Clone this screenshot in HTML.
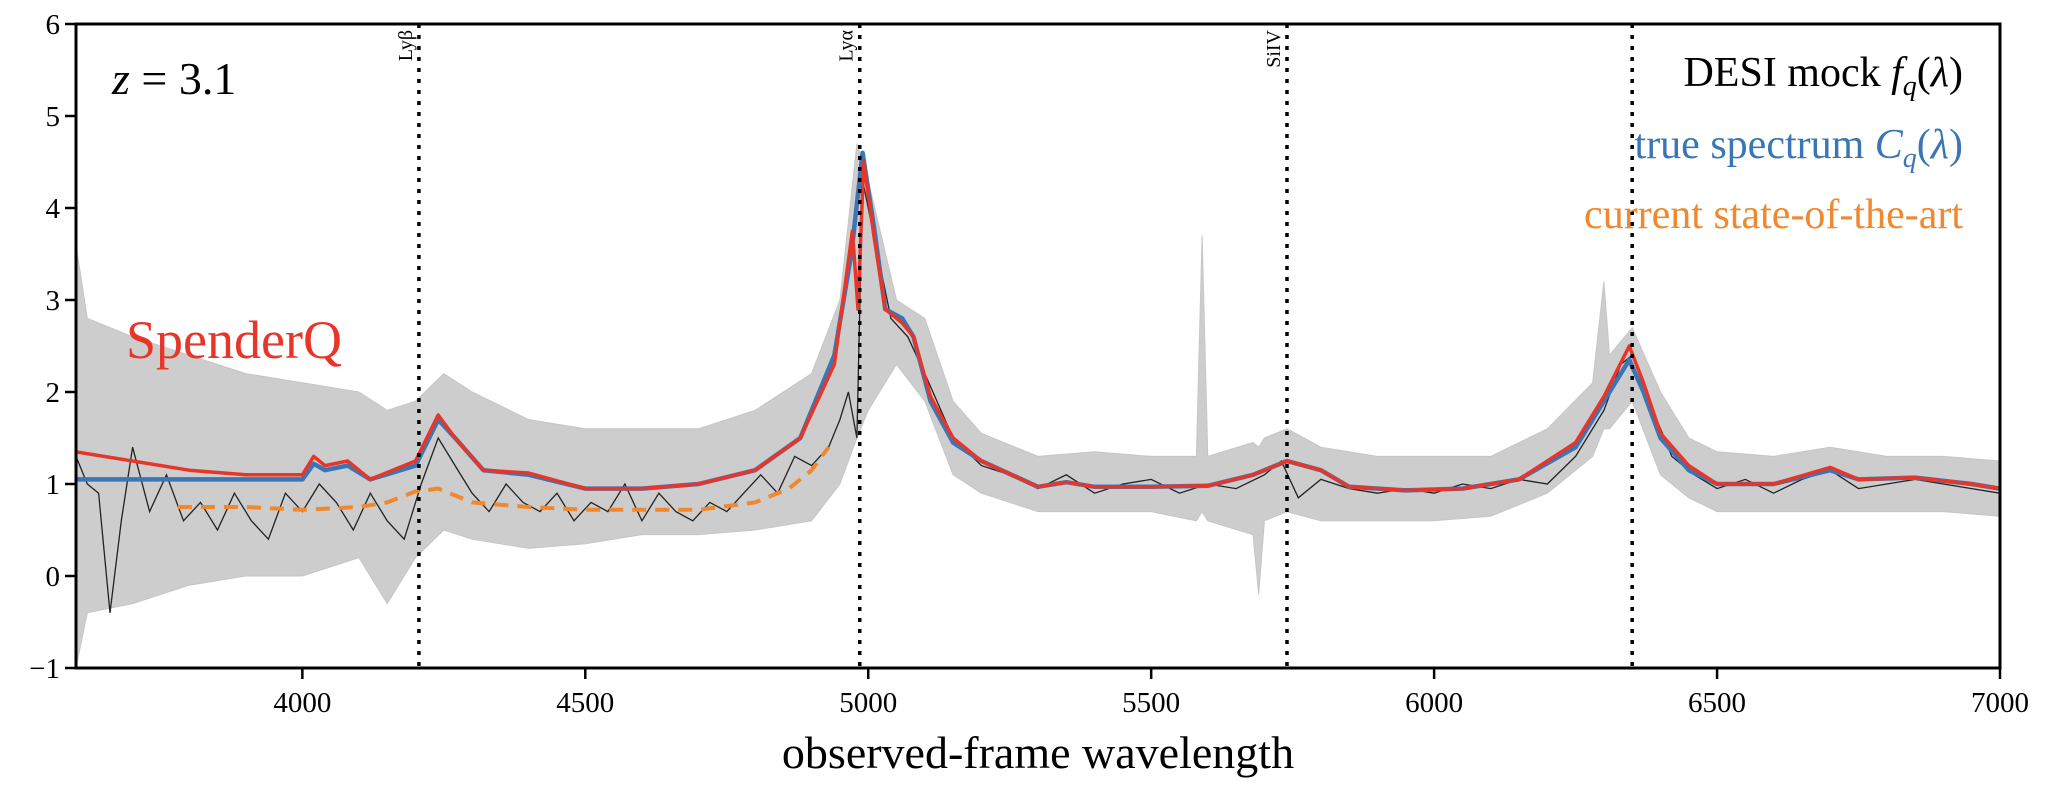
<!DOCTYPE html>
<html><head><meta charset="utf-8"><style>
html,body{margin:0;padding:0;background:#fff;}
svg{display:block;font-family:"Liberation Serif",serif;}
</style></head><body>
<svg id="chart" width="2048" height="790" viewBox="0 0 2048 790" xmlns="http://www.w3.org/2000/svg">
<g id="plot"></g>
</svg>
<script>
// ---- data ----
const xTicks = [4000, 4500, 5000, 5500, 6000, 6500, 7000];
const yTicks = [-1, 0, 1, 2, 3, 4, 5, 6];
const lineNames = ["Lyβ", "Lyα", "SiIV", "CIV"];
const lineWaves = [4206, 4985, 5740, 6350];

const grayWave  = [3600,3620,3700,3800,3900,4000,4100,4150,4200,4250,4300,4400,4500,4600,4700,4800,4900,4950,4980,5000,5050,5100,5150,5200,5300,5400,5500,5580,5590,5600,5680,5690,5700,5740,5800,5900,6000,6100,6200,6280,6300,6310,6350,6400,6450,6500,6600,6700,6800,6900,7000];
const grayUpper = [3.6,2.8,2.6,2.4,2.2,2.1,2.0,1.8,1.9,2.2,2.0,1.7,1.6,1.6,1.6,1.8,2.2,3.0,4.7,4.3,3.0,2.8,1.9,1.55,1.3,1.35,1.3,1.3,3.7,1.3,1.45,1.4,1.5,1.6,1.4,1.3,1.3,1.3,1.6,2.1,3.2,2.4,2.7,2.0,1.5,1.35,1.3,1.4,1.3,1.3,1.25];
const grayLower = [-1,-0.4,-0.3,-0.1,0.0,0.0,0.2,-0.3,0.2,0.5,0.4,0.3,0.35,0.45,0.45,0.5,0.6,1.0,1.5,1.8,2.3,1.9,1.1,0.9,0.7,0.7,0.7,0.6,0.7,0.6,0.45,-0.2,0.6,0.7,0.6,0.6,0.6,0.65,0.9,1.3,1.6,1.6,1.9,1.1,0.85,0.7,0.7,0.7,0.7,0.7,0.65];

const blackWave = [3600,3620,3640,3660,3680,3700,3730,3760,3790,3820,3850,3880,3910,3940,3970,4000,4030,4060,4090,4120,4150,4180,4210,4240,4270,4300,4330,4360,4390,4420,4450,4480,4510,4540,4570,4600,4630,4660,4690,4720,4750,4780,4810,4840,4870,4900,4930,4950,4965,4980,4990,5010,5040,5070,5100,5150,5200,5250,5300,5350,5400,5450,5500,5550,5600,5650,5700,5730,5760,5800,5850,5900,5950,6000,6050,6100,6150,6200,6250,6300,6330,6350,6380,6420,6460,6500,6550,6600,6650,6700,6750,6800,6850,6900,6950,7000];
const blackVals = [1.3,1.0,0.9,-0.4,0.6,1.4,0.7,1.1,0.6,0.8,0.5,0.9,0.6,0.4,0.9,0.7,1.0,0.8,0.5,0.9,0.6,0.4,1.0,1.5,1.2,0.9,0.7,1.0,0.8,0.7,0.9,0.6,0.8,0.7,1.0,0.6,0.9,0.7,0.6,0.8,0.7,0.9,1.1,0.9,1.3,1.2,1.4,1.7,2.0,1.5,4.3,3.7,2.8,2.6,2.2,1.5,1.2,1.1,0.95,1.1,0.9,1.0,1.05,0.9,1.0,0.95,1.1,1.25,0.85,1.05,0.95,0.9,0.95,0.9,1.0,0.95,1.05,1.0,1.3,1.8,2.3,2.4,1.9,1.3,1.1,0.95,1.05,0.9,1.05,1.15,0.95,1.0,1.05,1.0,0.95,0.9];

const blueWave = [3600,3900,4000,4020,4040,4080,4120,4200,4240,4270,4320,4400,4500,4600,4700,4800,4880,4940,4970,4990,5010,5030,5060,5080,5110,5150,5200,5300,5350,5400,5500,5600,5680,5740,5800,5850,5950,6050,6150,6250,6300,6345,6370,6400,6450,6500,6600,6700,6750,6850,6950,7000];
const blueVals = [1.05,1.05,1.05,1.22,1.15,1.2,1.05,1.2,1.7,1.5,1.15,1.1,0.95,0.95,1.0,1.15,1.5,2.4,3.5,4.6,3.8,2.9,2.8,2.6,1.9,1.45,1.25,0.97,1.02,0.97,0.97,0.98,1.1,1.25,1.15,0.97,0.93,0.95,1.05,1.4,1.9,2.35,2.0,1.5,1.15,1.0,1.0,1.15,1.05,1.07,1.0,0.95];

const redWave = [3600,3700,3800,3900,4000,4020,4040,4080,4120,4200,4240,4270,4320,4400,4500,4600,4700,4800,4880,4940,4960,4972,4982,4992,5010,5030,5060,5080,5110,5150,5200,5300,5350,5400,5500,5600,5680,5740,5800,5850,5950,6050,6150,6250,6300,6345,6370,6400,6450,6500,6600,6700,6750,6850,6950,7000];
const redVals = [1.35,1.25,1.15,1.1,1.1,1.3,1.2,1.25,1.05,1.25,1.75,1.5,1.15,1.12,0.95,0.95,1.0,1.15,1.5,2.3,3.2,3.75,2.9,4.5,3.7,2.9,2.75,2.6,1.95,1.5,1.25,0.97,1.02,0.97,0.97,0.98,1.1,1.25,1.15,0.97,0.93,0.95,1.05,1.45,1.95,2.5,2.1,1.55,1.2,1.0,1.0,1.18,1.05,1.07,1.0,0.95];

const orangeWave = [3780,3900,4000,4100,4150,4200,4240,4300,4400,4500,4600,4700,4800,4860,4900,4930];
const orangeVals = [0.75,0.75,0.72,0.75,0.8,0.92,0.95,0.8,0.75,0.72,0.72,0.72,0.8,0.95,1.15,1.4];

// ---- axes ----
const X0=3600, X1=7000, PX0=76, PX1=2000;
const Y0=-1, Y1=6, PY0=668, PY1=24;
const xs = v => PX0 + (v - X0) * (PX1 - PX0) / (X1 - X0);
const ys = v => PY0 - (v - Y0) * (PY0 - PY1) / (Y1 - Y0);
const NS="http://www.w3.org/2000/svg";
const svg=document.getElementById('chart');
const plot=document.getElementById('plot');
function mk(tag, attrs, parent){const e=document.createElementNS(NS,tag);for(const k in attrs)e.setAttribute(k,attrs[k]);(parent||svg).appendChild(e);return e;}
function pts(w,v){return w.map((x,i)=>xs(x).toFixed(1)+','+ys(v[i]).toFixed(1)).join(' ');}

const clip=mk('clipPath',{id:'clip'});mk('rect',{x:PX0,y:PY1,width:PX1-PX0,height:PY0-PY1},clip);
plot.setAttribute('clip-path','url(#clip)');

const band = mk('polygon',{points:pts(grayWave,grayUpper)+' '+pts(grayWave.slice().reverse(),grayLower.slice().reverse()),fill:'#cdcdcd',stroke:'#c6c6c6','stroke-width':1},plot);



const bl = mk('polyline',{points:pts(blackWave,blackVals),fill:'none',stroke:'#222','stroke-width':1.3},plot);



const og = mk('polyline',{points:pts(orangeWave,orangeVals),fill:'none',stroke:'#f0882f','stroke-width':4,'stroke-dasharray':'14,9'},plot);



const bu = mk('polyline',{points:pts(blueWave,blueVals),fill:'none',stroke:'#3a76b5','stroke-width':4.5,'stroke-linejoin':'round'},plot);



const rd = mk('polyline',{points:pts(redWave,redVals),fill:'none',stroke:'#e8352a','stroke-width':3.5,'stroke-linejoin':'round'},plot);



lineWaves.forEach((w,i)=>{
  const l=mk('line',{x1:xs(w),x2:xs(w),y1:PY1,y2:PY0,stroke:'#000','stroke-width':3.5,'stroke-dasharray':'4,7'});
  
  
  if(lineNames[i]!=="CIV"){
    const t=mk('text',{x:0,y:0,'font-size':20,'text-anchor':'end',transform:`translate(${xs(w)-7},30) rotate(-90)`});
    t.textContent=lineNames[i];
    
    
  }
});

const fr=mk('rect',{x:PX0,y:PY1,width:PX1-PX0,height:PY0-PY1,fill:'none',stroke:'#000','stroke-width':3});



xTicks.forEach(v=>{
  const t=mk('line',{x1:xs(v),x2:xs(v),y1:PY0,y2:PY0+11,stroke:'#000','stroke-width':2.5});
  
  
  const l=mk('text',{x:xs(v),y:PY0+44,'font-size':29,'text-anchor':'middle'});
  l.textContent=v;
  
  
});
yTicks.forEach(v=>{
  const t=mk('line',{x1:PX0-11,x2:PX0,y1:ys(v),y2:ys(v),stroke:'#000','stroke-width':2.5});
  
  
  const l=mk('text',{x:PX0-16,y:ys(v)+10,'font-size':29,'text-anchor':'end'});
  l.textContent=v<0?'−'+Math.abs(v):v;
  
  
});
</script>
<svg style="position:absolute;left:0;top:0" width="2048" height="790">
<text x="1038" y="768" font-size="46" text-anchor="middle" font-family="Liberation Serif,serif">observed-frame wavelength</text>
<text x="112" y="94" font-size="46" font-family="Liberation Serif,serif"><tspan font-style="italic">z</tspan> = 3.1</text>
<text x="126" y="358" font-size="54" fill="#e8352a" font-family="Liberation Serif,serif">SpenderQ</text>
<text x="1963" y="86" font-size="42" text-anchor="end" font-family="Liberation Serif,serif">DESI mock  <tspan font-style="italic">f</tspan><tspan font-style="italic" font-size="28" dy="9">q</tspan><tspan dy="-9">(</tspan><tspan font-style="italic">λ</tspan>)</text>
<text x="1963" y="158" font-size="42" text-anchor="end" fill="#3a76b5" font-family="Liberation Serif,serif">true spectrum <tspan font-style="italic">C</tspan><tspan font-style="italic" font-size="28" dy="9">q</tspan><tspan dy="-9">(</tspan><tspan font-style="italic">λ</tspan>)</text>
<text x="1963" y="228" font-size="42" text-anchor="end" fill="#f0882f" font-family="Liberation Serif,serif">current state-of-the-art</text>
</svg>
</body></html>
